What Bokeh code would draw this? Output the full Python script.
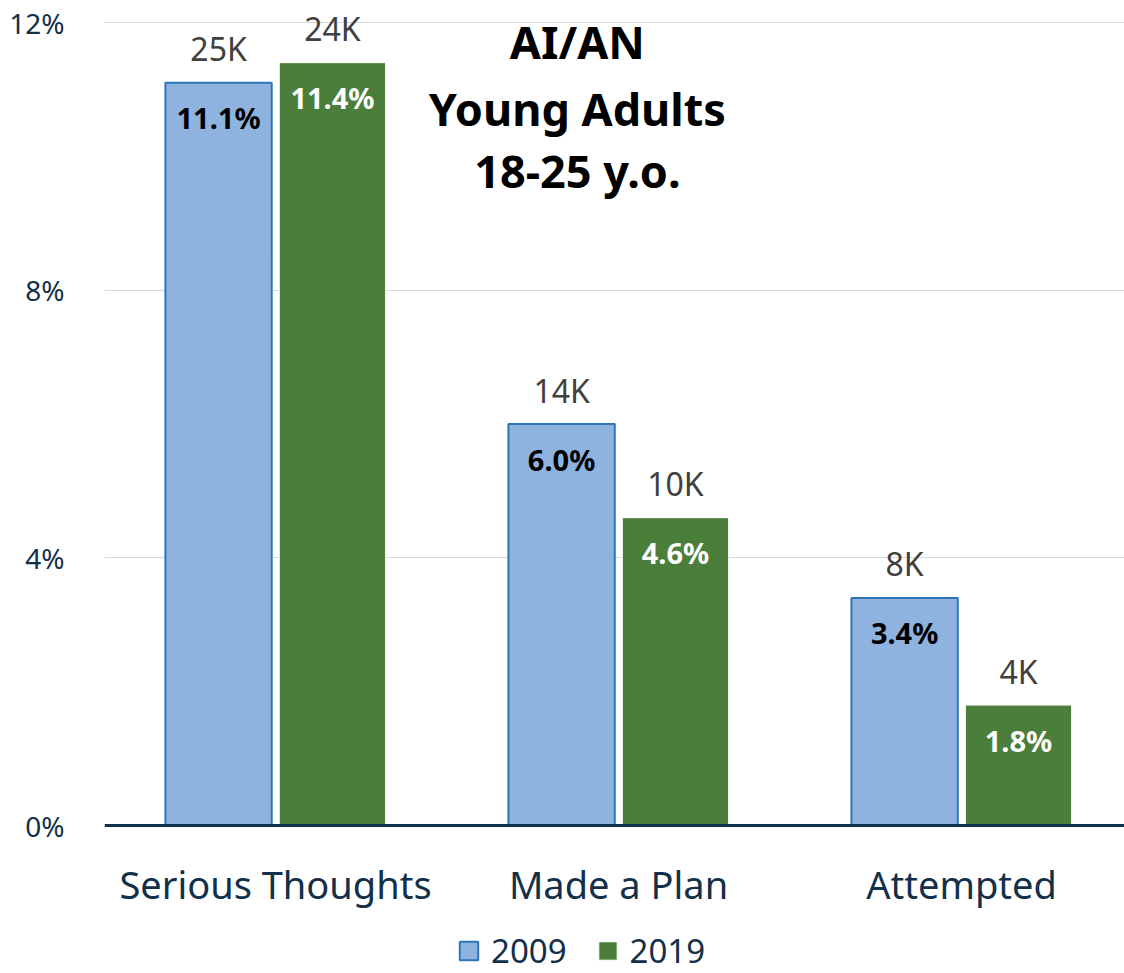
from bokeh.plotting import figure
from bokeh.models import (ColumnDataSource, Legend, LegendItem, FixedTicker, Range1d,
                          Label, Span)
from bokeh.core.properties import value
from bokeh.embed import file_html
from bokeh.resources import INLINE

categories = ["Serious Thoughts", "Made a Plan", "Attempted"]
pct_2009 = [11.1, 6.0, 3.4]
pct_2019 = [11.4, 4.6, 1.8]
count_2009 = ["25K", "14K", "8K"]
count_2019 = ["24K", "10K", "4K"]
years = ["2009", "2019"]
y_ticks = [0, 4, 8, 12]
title_lines = ["AI/AN", "Young Adults", "18-25 y.o."]

FONT = "Noto Sans"
C09_FILL = "#8FB3DF"
C09_LINE = "#2E75B6"
C19_FILL = "#4A7E3A"
NAVY = "#13304A"

idx = list(range(len(categories)))
off = 0.166
bw = 0.31

src09 = ColumnDataSource(dict(x=[i - off for i in idx], top=pct_2009,
                              cnt=count_2009, pct=[f"{v:.1f}%" for v in pct_2009]))
src19 = ColumnDataSource(dict(x=[i + off for i in idx], top=pct_2019,
                              cnt=count_2019, pct=[f"{v:.1f}%" for v in pct_2019]))
src_cat = ColumnDataSource(dict(x=idx, y=[0] * len(idx), label=categories))

p = figure(width=1124, height=973, output_backend="svg", toolbar_location=None,
           x_range=Range1d(-0.4985, 2.475), y_range=Range1d(-2.2117, 12.3288),
           min_border_left=104, min_border_right=0, min_border_top=0, min_border_bottom=0)
p.outline_line_color = None
p.background_fill_color = "white"
p.xaxis.visible = False

r09 = p.vbar(x="x", top="top", width=bw, source=src09, fill_color=C09_FILL,
             line_color=C09_LINE, line_width=2)
r19 = p.vbar(x="x", top="top", width=bw, source=src19, fill_color=C19_FILL,
             line_color="white", line_width=1)

# baseline
p.add_layout(Span(location=0, dimension="width", line_color=NAVY, line_width=3))

# count labels above bars
for src in (src09, src19):
    p.text(x="x", y="top", text="cnt", source=src, text_align="center",
           text_baseline="middle", y_offset=-34, text_font=value(FONT),
           text_font_size="32px", text_color="#404040")
# percent labels inside bars
p.text(x="x", y="top", text="pct", source=src09, text_align="center",
       text_baseline="middle", y_offset=35, text_font=value(FONT),
       text_font_size="29px", text_font_style="bold", text_color="black")
p.text(x="x", y="top", text="pct", source=src19, text_align="center",
       text_baseline="middle", y_offset=35, text_font=value(FONT),
       text_font_size="29px", text_font_style="bold", text_color="white")

# category labels
p.text(x="x", y="y", text="label", source=src_cat, text_align="center",
       text_baseline="middle", y_offset=58, text_font=value(FONT),
       text_font_size="38px", text_color=NAVY)

# title block
for txt, yv in zip(title_lines, (11.72, 10.71, 9.79)):
    p.add_layout(Label(x=0.88, y=yv, text=txt, text_align="center",
                       text_baseline="middle", text_font=FONT,
                       text_font_size="45px", text_font_style="bold",
                       text_color="black"))

# y axis
p.yaxis.ticker = FixedTicker(ticks=y_ticks)
p.yaxis.major_label_overrides = {t: f"{t}%" for t in y_ticks}
p.yaxis.axis_line_color = None
p.yaxis.major_tick_line_color = None
p.yaxis.minor_tick_line_color = None
p.yaxis.major_label_standoff = 34
p.yaxis.major_label_text_font = FONT
p.yaxis.major_label_text_font_size = "28px"
p.yaxis.major_label_text_color = NAVY

p.xgrid.grid_line_color = None
p.ygrid.ticker = FixedTicker(ticks=y_ticks)
p.ygrid.grid_line_color = "#D9D9D9"
p.ygrid.grid_line_width = 1

legend = Legend(items=[LegendItem(label=years[0], renderers=[r09]),
                       LegendItem(label=years[1], renderers=[r19])],
                orientation="horizontal", location=(353, 0),
                label_text_font=FONT, label_text_font_size="33px",
                label_text_color=NAVY, glyph_width=23, glyph_height=23,
                spacing=29, label_standoff=11, border_line_color=None,
                background_fill_alpha=0, padding=0, margin=0)
p.add_layout(legend, "center")

open("out.html", "w").write(file_html(p, INLINE))
